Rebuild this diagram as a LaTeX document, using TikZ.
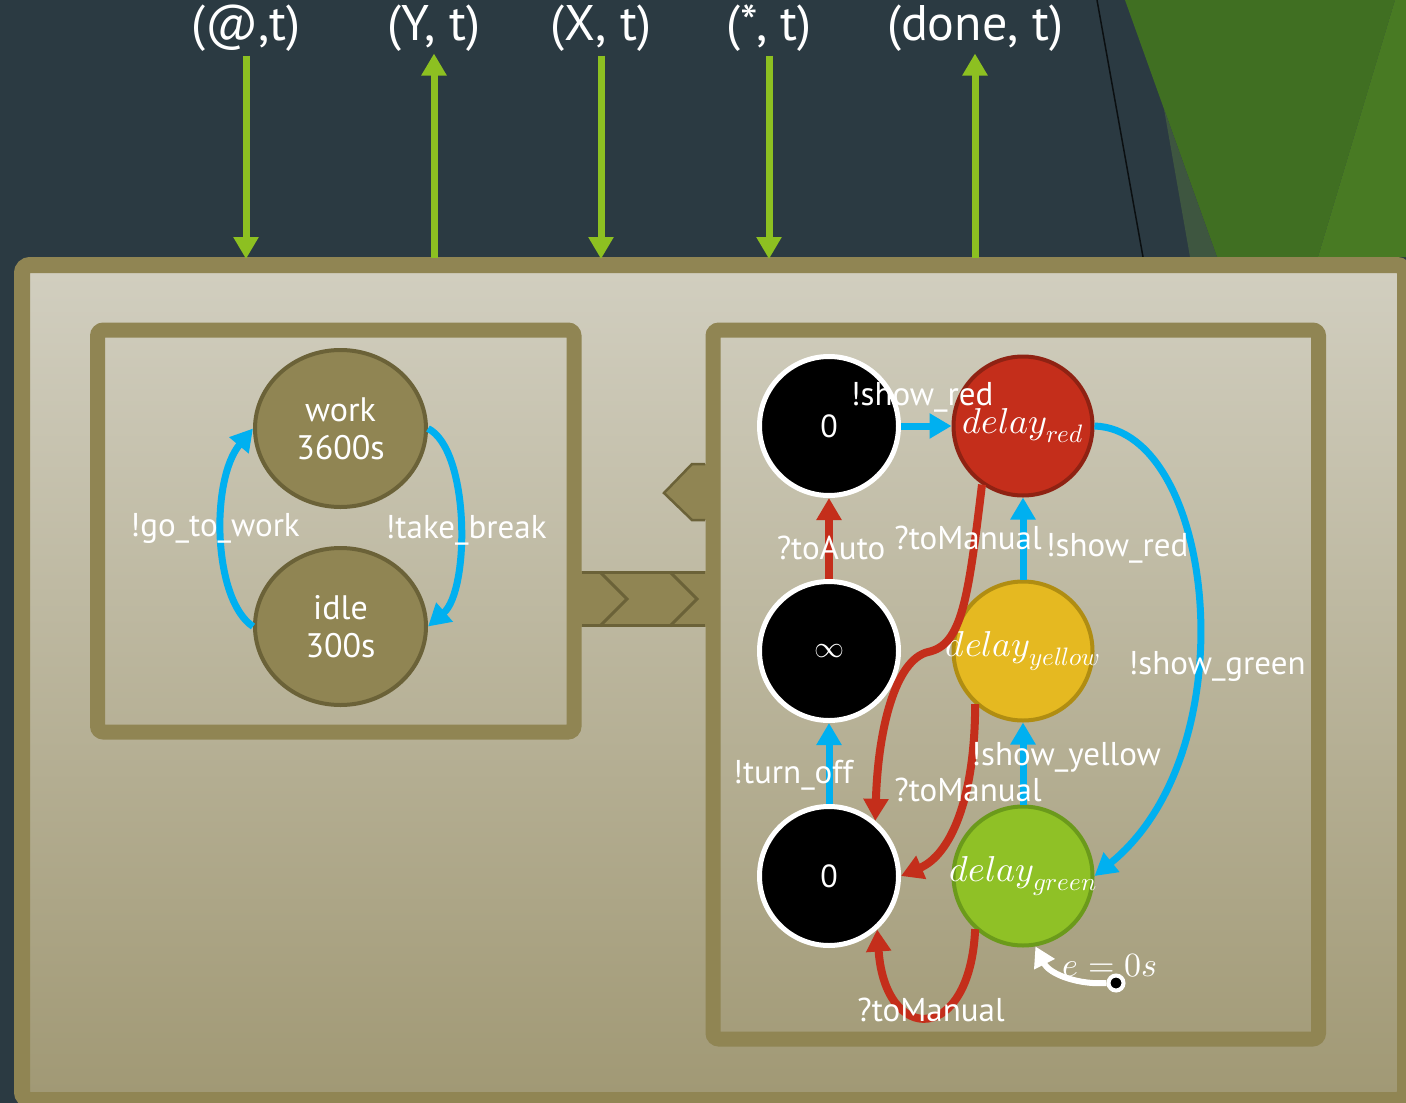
\documentclass[tikz,border=0pt]{standalone}
\usepackage{fontspec}
\usepackage{unicode-math}
\setmainfont{PT Sans}
\setmathfont{Latin Modern Math}
\usetikzlibrary{arrows.meta,shapes.geometric}

\definecolor{slate}{HTML}{2B3A42}
\definecolor{frame}{HTML}{908553}
\definecolor{frameline}{HTML}{6B6238}
\definecolor{boxtop}{HTML}{D1CEBF}
\definecolor{boxbot}{HTML}{A19975}
\definecolor{flowblue}{HTML}{00B0F0}
\definecolor{flowred}{HTML}{C42E1B}
\definecolor{lime}{HTML}{8DC021}
\definecolor{redfill}{HTML}{C42E1B}
\definecolor{redline}{HTML}{8F2213}
\definecolor{yelfill}{HTML}{E5B921}
\definecolor{yelline}{HTML}{B08D12}
\definecolor{grnfill}{HTML}{8FC126}
\definecolor{grnline}{HTML}{6B9A1B}
\definecolor{leafmid}{HTML}{406F22}
\definecolor{leafright}{HTML}{487A23}
\definecolor{leafgrey}{HTML}{3E5640}

% text of a lamp state may spill past its circle without resizing it
\newcommand{\lamptext}[1]{\makebox[0pt][c]{$#1$}}

\tikzset{
  flow/.style={line width=7pt, -{Triangle[width=24pt,length=22pt]}},
  blueflow/.style={flow, draw=flowblue},
  redflow/.style={flow, draw=flowred, line width=8pt},
  limeflow/.style={flow, draw=lime},
  lbl/.style={text=white, inner sep=0pt, font=\fontsize{33}{36}\selectfont},
  toplbl/.style={text=white, inner sep=0pt, font=\fontsize{50}{56}\selectfont},
  task/.style={ellipse, draw=frameline, fill=frame, line width=4pt,
    minimum width=171pt, minimum height=157pt, text=white, align=center,
    font=\fontsize{34}{38}\selectfont},
  timer/.style={circle, draw=white, fill=black, line width=5pt,
    minimum size=139pt, text=white, font=\fontsize{32}{34}\selectfont},
  lamp/.style={circle, line width=4pt, minimum size=139pt, text=white,
    inner sep=0pt, font=\fontsize{36}{38}\selectfont},
}

\begin{document}
\begin{tikzpicture}[x=1pt,y=-1pt]
\useasboundingbox (0,0) rectangle (1406,1103);
\clip (0,0) rectangle (1406,1103);

% backdrop
\fill[slate] (0,0) rectangle (1406,1103);
\fill[leafmid] (1125,0) -- (1217,257) -- (1318,257) -- (1395,0) -- cycle;
\fill[leafright] (1395,0) -- (1318,257) -- (1406,257) -- (1406,0) -- cycle;
\fill[leafgrey] (1164,109) -- (1190,257) -- (1217,257) -- cycle;
\draw[black!75!slate, line width=1.5pt] (1097,0) -- (1143,257);

% outer model box
\shade[top color=boxtop, bottom color=boxbot] (30,273) rectangle (1397,1092);
\draw[frame, line width=16pt, rounded corners=8pt] (22,265) rectangle (1405,1100);

% inner panels
\draw[frame, line width=15pt, rounded corners=6pt] (97.5,330) rectangle (574,732);
\draw[frame, line width=15pt, rounded corners=6pt] (713,330) rectangle (1318.5,1039);

% coupling band between the panels
\fill[frame] (574,571) rectangle (713,627);
\draw[frameline, line width=3pt] (582,572.5) -- (705,572.5);
\draw[frameline, line width=3pt] (582,625.5) -- (705,625.5);
\draw[frameline, line width=3pt] (600,572) -- (627,599) -- (600,626);
\draw[frameline, line width=3pt] (670,572) -- (697,599) -- (670,626);

% input port notch
\fill[frame] (706,464) -- (692,464) -- (664,493) -- (692,520) -- (706,520) -- cycle;
\draw[frameline, line width=2.5pt] (705,464) -- (692,464) -- (664,493) -- (692,520) -- (705,520);

% ports
\node[toplbl] (lat) at (246,28) {(@,t)};
\node[toplbl] (ly)  at (434,28) {(Y, t)};
\node[toplbl] (lx)  at (601,28) {(X, t)};
\node[toplbl] (lst) at (769,28) {(*, t)};
\node[toplbl] (ldn) at (975,28) {(done, t)};
\coordinate (pat) at (246,259);
\coordinate (py)  at (434,258);
\coordinate (px)  at (601,259);
\coordinate (pst) at (769,259);
\coordinate (pdn) at (975,258);
\draw[limeflow, shorten <=4pt] (lat.south) -- (pat);
\draw[limeflow, shorten >=2pt] (py) -- (ly.south);
\draw[limeflow, shorten <=4pt] (lx.south) -- (px);
\draw[limeflow, shorten <=4pt] (lst.south) -- (pst);
\draw[limeflow, shorten >=2pt] (pdn) -- (ldn.south);

% worker model
\node[task] (work) at (340.5,428.5) {work\\3600s};
\node[task] (idle) at (340.5,626.5) {idle\\300s};
\draw[blueflow] (idle.west) .. controls (213,600) and (210,480) .. (work.west);
\draw[blueflow] (work.east) .. controls (470,450) and (470,590) .. (idle.east);

% traffic light model
\node[timer] (n0)   at (829,426) {0};
\node[timer, font=\fontsize{30}{32}\selectfont] (ninf) at (829,651) {$\infty$};
\node[timer] (n0b)  at (829,876) {0};
\node[lamp, fill=redfill, draw=redline] (dred) at (1023,426) {\lamptext{delay_{red}}};
\node[lamp, fill=yelfill, draw=yelline] (dyel) at (1023,651) {\lamptext{delay_{yellow}}};
\node[lamp, fill=grnfill, draw=grnline] (dgrn) at (1023,876) {\lamptext{delay_{green}}};

\draw[blueflow] (n0) -- (dred);
\draw[redflow] (ninf) -- (n0);
\draw[blueflow] (dyel) -- (dred);
\draw[blueflow] (dgrn) -- (dyel);
\draw[blueflow] (n0b) -- (ninf);
\draw[blueflow] (dred.east) .. controls (1215,430) and (1250,750) .. (dgrn.east);
\draw[redflow] (dred.235) .. controls (968,600) and (962,645) .. (928,652)
  .. controls (895,660) and (878,730) .. (n0b.50);
\draw[redflow] (dyel.228) .. controls (975,800) and (950,855) .. (n0b.east);
\draw[redflow] (dgrn.228) .. controls (970,1045) and (885,1045) .. (n0b.312);

% initial state marker
\node[lbl, font=\fontsize{34}{36}\selectfont] (eq) at (1110,966) {$e = 0s$};
\node[circle, fill=black, draw=white, line width=4pt, minimum size=15pt, inner sep=0pt] (init) at (1116,983) {};
\draw[white, line width=6pt, -{Triangle[width=22pt,length=20pt]}]
  (init.west) .. controls (1080,985) and (1050,975) .. (dgrn.280);

% transition labels
\node[lbl] at (215,528) {!go\_to\_work};
\node[lbl] at (466,530) {!take\_break};
\node[lbl] at (922,397) {!show\_red};
\node[lbl] at (831,548) {?toAuto};
\node[lbl] at (968,538) {?toManual};
\node[lbl] at (1117,548) {!show\_red};
\node[lbl] at (1217,666) {!show\_green};
\node[lbl] at (1066,757) {!show\_yellow};
\node[lbl] at (793,775) {!turn\_off};
\node[lbl] at (968,790) {?toManual};
\node[lbl] at (931,1010) {?toManual};
\end{tikzpicture}
\end{document}
